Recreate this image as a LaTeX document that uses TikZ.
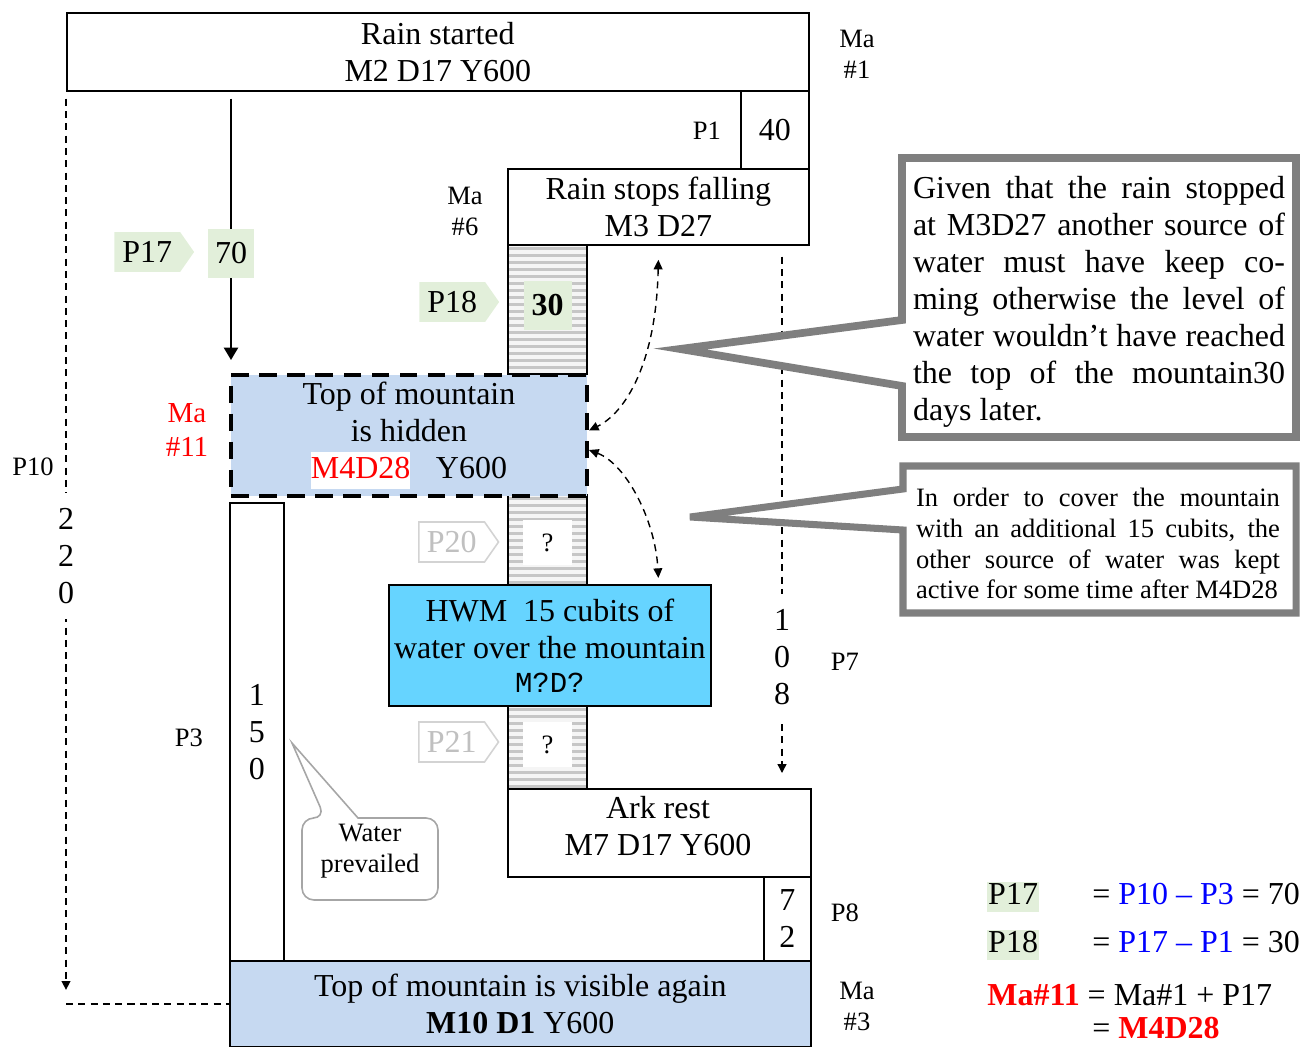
\documentclass[tikz,border=0pt]{standalone}
\usepackage{fontspec}
\setmainfont{Liberation Serif}
\newfontfamily\codefont{Liberation Mono}
\usetikzlibrary{arrows.meta, shapes.symbols, backgrounds}

\definecolor{tagfill}{HTML}{E2EFDA}
\definecolor{skyfill}{HTML}{C6D9F1}
\definecolor{hwmfill}{HTML}{66D4FF}
\definecolor{noteline}{HTML}{7F7F7F}
\definecolor{ghost}{HTML}{C0C0C0}
\definecolor{bubble}{HTML}{A6A6A6}

\newcommand{\bigtext}{\fontsize{18.2}{21}\selectfont}
\newcommand{\smalltext}{\fontsize{15.1}{17.6}\selectfont}

\tikzset{
  box/.style={draw, line width=1pt, anchor=north west, inner sep=0pt, align=center, font=\bigtext},
  hatched/.style={box, minimum width=1.58cm, fill=gray!8,
    path picture={\foreach \k in {0,...,30}
      \draw[gray!45, line width=1.5pt]
        ([yshift={-0.07cm-\k*0.14cm}]path picture bounding box.north west) --
        ([yshift={-0.07cm-\k*0.14cm}]path picture bounding box.north east);}},
  qbox/.style={fill=white, minimum width=0.98cm, minimum height=0.9cm, inner sep=0pt, font=\smalltext},
  numbox/.style={fill=tagfill, minimum width=0.96cm, minimum height=0.98cm, inner sep=0pt, font=\bigtext},
  tag/.style={shape=signal, signal to=east, signal pointer angle=110, anchor=west, fill=tagfill,
    minimum height=0.8cm, minimum width=1.5cm, inner xsep=0.16cm, inner ysep=0pt, font=\bigtext},
  ghosttag/.style={tag, fill=white, draw=ghost!70, line width=0.9pt, text=ghost},
  lbl/.style={align=center, inner sep=0pt, font=\smalltext},
  digits/.style={align=center, fill=white, inner xsep=2pt, inner ysep=0.3cm, font=\bigtext},
  note/.style={draw=noteline, line width=4.4pt, fill=white},
  notetext/.style={align=justify, inner sep=0pt, font=\bigtext,
    execute at begin node={\hyphenpenalty=10000 \tolerance=9999 }},
  eq/.style={anchor=west, inner sep=0pt, font=\bigtext, text height=13pt, text depth=4pt},
  hl/.style={eq, fill=tagfill, inner xsep=0.5pt},
  flow/.style={line width=1.1pt, -{Triangle[length=7pt,width=8pt]}},
  span/.style={line width=0.8pt, dash pattern=on 4pt off 3pt, -{Triangle[length=5pt,width=5pt]}},
  link/.style={line width=0.8pt, dash pattern=on 4pt off 3pt,
    {Triangle[length=5.5pt,width=5pt]}-{Triangle[length=5.5pt,width=5pt]}}
}

\begin{document}
\begin{tikzpicture}[x=0.02cm, y=-0.02cm]
\useasboundingbox (0,0) rectangle (1312,1047);

% timeline boxes
\node[box, minimum width=14.84cm, minimum height=1.56cm] (started) at (66,12) {Rain started\\M2 D17 Y600};
\node[box, minimum width=1.36cm, minimum height=1.56cm] (forty) at (740,90) {40};
\node[box, minimum width=6.02cm, minimum height=1.52cm] (stops) at (507,168) {Rain stops falling\\M3 D27};
\node[hatched, minimum height=2.58cm] (colA) at (507,244) {};
\node[hatched, minimum height=1.8cm] (colB) at (507,494) {};
\node[hatched, minimum height=1.66cm] (colC) at (507,705) {};
\node[box, minimum width=1.08cm, minimum height=9.16cm] (colP3) at (229,502) {1\\5\\0};
\node[box, fill=skyfill, line width=2.3pt, dash pattern=on 10pt off 6pt, minimum width=7.12cm, minimum height=2.42cm] (hidden) at (229,373)
  {Top of mountain\\is hidden\\{\setlength{\fboxsep}{0pt}\colorbox{white}{\strut\textcolor{red}{M4D28}}}\hspace{0.8em}Y600};
\node[box, fill=hwmfill, minimum width=6.44cm, minimum height=2.42cm] (hwm) at (388,584)
  {HWM\ \ 15 cubits of\\water over the mountain\\[-0.06cm]{\codefont\fontsize{16.5}{19}\selectfont M?D?}};
\node[box, minimum width=6.06cm, minimum height=1.76cm] (ark) at (507,788) {};
\node[lbl, font=\bigtext] (arktext) at (658,826) {Ark rest\\M7 D17 Y600};
\node[box, minimum width=0.94cm, minimum height=1.68cm] (seventytwo) at (763,876) {7\\2};
\node[box, fill=skyfill, minimum width=11.62cm, minimum height=1.72cm] (visible) at (229,960)
  {Top of mountain is visible again\\\textbf{M10 D1} Y600};

% period tags
\node[numbox, minimum width=0.94cm] (seventy) at (231,253.5) {70};
\node[numbox, font=\bigtext\bfseries] (thirty) at (547.5,305.5) {30};
\node[qbox] (qB) at (547.5,542.5) {?};
\node[qbox] (qC) at (547.5,744.5) {?};
\node[tag] (p17) at (114,252) {P17};
\node[tag] (p18) at (419,302) {P18};
\node[ghosttag] (p20) at (418,542) {P20};
\node[ghosttag] (p21) at (418,742) {P21};

% side labels
\node[lbl] (ma1) at (857,54) {Ma\\\#1};
\node[lbl] (p1) at (707,131) {P1};
\node[lbl] (ma6) at (465,211) {Ma\\\#6};
\node[lbl, red, font=\fontsize{16.5}{18.8}\selectfont] (ma11) at (187,430) {Ma\\\#11};
\node[lbl] (p10) at (33,467) {P10};
\node[lbl] (p3) at (189,738) {P3};
\node[lbl] (p7) at (845,662) {P7};
\node[lbl] (p8) at (845,913) {P8};
\node[lbl] (ma3) at (857,1006) {Ma\\\#3};
\node[digits] (p220) at (66,556) {2\\2\\0};
\node[digits] (p108) at (782,657) {1\\0\\8};

% notes
\draw[note] (902,158) -- (1296,158) -- (1296,437) -- (902,437) -- (902,386) -- (680,349) -- (902,320) -- cycle;
\node[notetext, text width=7.44cm] (note1) at (1099,302) {Given that the rain stopped\linebreak at M3D27 another source of\linebreak water must have keep co-\linebreak ming otherwise the level of\linebreak water wouldn't have reached\linebreak the top of the mountain30\linebreak days later.};
\draw[note, line width=4pt] (903,466) -- (1296,466) -- (1296,613) -- (903,613) -- (903,530) -- (690,517) -- (903,489) -- cycle;
\node[notetext, font=\smalltext, text width=7.28cm] (note2) at (1098,543.5) {In order to cover the mountain\linebreak with an additional 15 cubits, the\linebreak other source of water was kept\linebreak active for some time after M4D28};

\draw[draw=bubble, line width=0.9pt, fill=white, rounded corners=0.24cm] (370,900) -- (302,900) -- (302,818) -- (325,818) [sharp corners] -- (292,743) -- (358,818) [rounded corners=0.24cm] -- (438,818) -- (438,900) -- cycle;
\node[lbl] (water) at (370,851.5) {Water\\prevailed};

% sums
\node[hl] (sum1l) at (987,897) {P17};
\node[eq] (sum1r) at (1092,897) {= \textcolor{blue}{P10 – P3} = 70};
\node[hl] (sum2l) at (987,945) {P18};
\node[eq] (sum2r) at (1092,945) {= \textcolor{blue}{P17 – P1} = 30};
\node[eq] (sum3) at (987,998) {\textcolor{red}{\textbf{Ma\#11}} = Ma\#1 + P17};
\node[eq] (sum4) at (1092,1031) {= \textcolor{red}{\textbf{M4D28}}};

% connectors
\begin{scope}[on background layer]
\draw[flow, shorten <=0.14cm, shorten >=0.26cm] (started.south -| seventy) -- (hidden.north -| seventy);
\draw[span, shorten <=0.14cm, shorten >=0.28cm] (started.south -| p220) -- (visible.west -| p220);
\draw[span, -] (visible.west -| p220) -- (visible.west);
\draw[span, shorten <=0.22cm, shorten >=0.3cm] (stops.south -| p108) -- (ark.north -| p108);
\draw[link] ([yshift=-0.28cm]stops.south) .. controls +(-2,102) and +(37,-18) .. ([yshift=0.1cm]hidden.east);
\draw[link] ([yshift=-0.29cm]hidden.east) .. controls +(37,14) and +(-3,-58) .. ([yshift=0.12cm]hwm.north -| stops.south);
\end{scope}
\end{tikzpicture}
\end{document}
